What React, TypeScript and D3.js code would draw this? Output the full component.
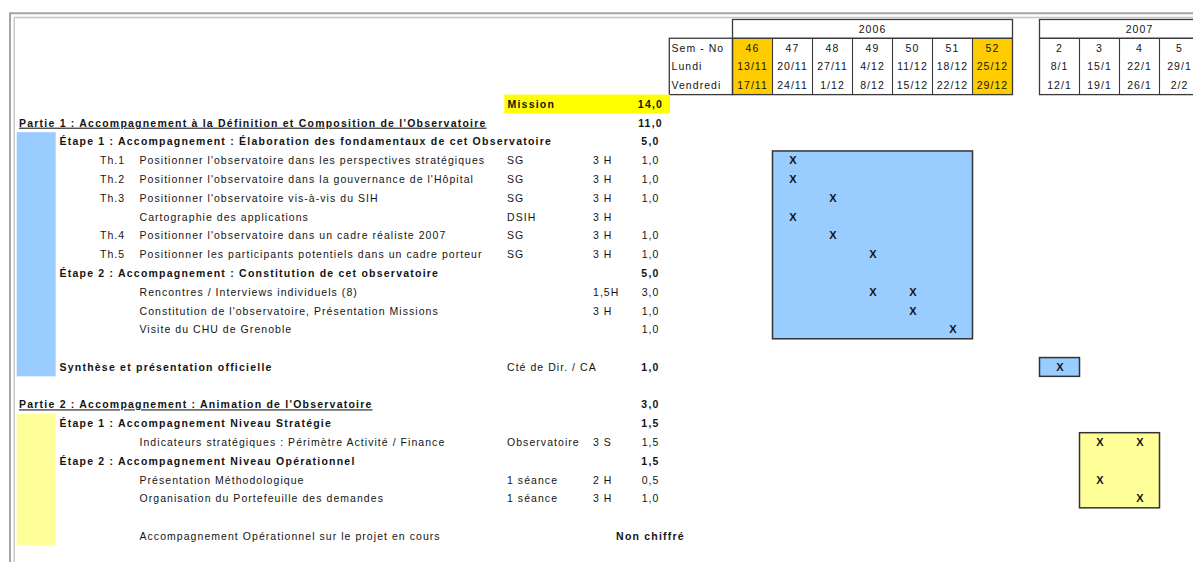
import React, { useEffect } from "react";
import * as d3 from "d3";

// ---------- DATA ----------
const weeks2006 = ["46", "47", "48", "49", "50", "51", "52"];
const lundi2006 = ["13/11", "20/11", "27/11", "4/12", "11/12", "18/12", "25/12"];
const vendredi2006 = ["17/11", "24/11", "1/12", "8/12", "15/12", "22/12", "29/12"];
const weeks2007 = ["2", "3", "4", "5"];
const lundi2007 = ["8/1", "15/1", "22/1", "29/1"];
const vendredi2007 = ["12/1", "19/1", "26/1", "2/2"];
const highlightedWeeks = ["2006-46", "2006-52"];
const headerLabels = ["Sem - No", "Lundi", "Vendredi"];

// row kinds: mission | partie | etape | task | empty
const rowKinds = [
  "mission", "partie", "etape", "task", "task", "task", "task", "task", "task",
  "etape", "task", "task", "task", "empty", "etape", "empty",
  "partie", "etape", "task", "etape", "task", "task", "empty", "task",
];
const rowCodes = [
  "", "", "", "Th.1", "Th.2", "Th.3", "", "Th.4", "Th.5",
  "", "", "", "", "", "", "",
  "", "", "", "", "", "", "", "",
];
const rowLabels = [
  "Mission",
  "Partie 1 : Accompagnement à la Définition et Composition de l'Observatoire",
  "Étape 1 : Accompagnement : Élaboration des fondamentaux de cet Observatoire",
  "Positionner l'observatoire dans les perspectives stratégiques",
  "Positionner l'observatoire dans la gouvernance de l'Hôpital",
  "Positionner l'observatoire vis-à-vis du SIH",
  "Cartographie des applications",
  "Positionner l'observatoire dans un cadre réaliste 2007",
  "Positionner les participants potentiels dans un cadre porteur",
  "Étape 2 : Accompagnement : Constitution de cet observatoire",
  "Rencontres / Interviews individuels (8)",
  "Constitution de l'observatoire, Présentation Missions",
  "Visite du CHU de Grenoble",
  "",
  "Synthèse et présentation officielle",
  "",
  "Partie 2 : Accompagnement : Animation de l'Observatoire",
  "Étape 1 : Accompagnement Niveau Stratégie",
  "Indicateurs stratégiques : Périmètre Activité / Finance",
  "Étape 2 : Accompagnement Niveau Opérationnel",
  "Présentation Méthodologique",
  "Organisation du Portefeuille des demandes",
  "",
  "Accompagnement Opérationnel sur le projet en cours",
];
const rowOwners = [
  "", "", "", "SG", "SG", "SG", "DSIH", "SG", "SG",
  "", "", "", "", "", "Cté de Dir. / CA", "",
  "", "", "Observatoire", "", "1 séance", "1 séance", "", "",
];
const rowDurations = [
  "", "", "", "3 H", "3 H", "3 H", "3 H", "3 H", "3 H",
  "", "1,5H", "3 H", "", "", "", "",
  "", "", "3 S", "", "2 H", "3 H", "", "",
];
const rowDays = [
  "14,0", "11,0", "5,0", "1,0", "1,0", "1,0", "", "1,0", "1,0",
  "5,0", "3,0", "1,0", "1,0", "", "1,0", "",
  "3,0", "1,5", "1,5", "1,5", "0,5", "1,0", "", "Non chiffré",
];
const rowBoldDays = [0, 1, 2, 9, 14, 16, 17, 19, 23];
const rowMarks: string[][] = [
  [], [], [], ["2006-47"], ["2006-47"], ["2006-48"], ["2006-47"], ["2006-48"], ["2006-49"],
  [], ["2006-49", "2006-50"], ["2006-50"], ["2006-51"], [], ["2007-2"], [],
  [], [], ["2007-3", "2007-4"], [], ["2007-3"], ["2007-4"], [], [],
];

// phase blocks
const blockRows = [[3, 12], [14, 14], [18, 21]];
const blockWeeks = [["2006-47", "2006-51"], ["2007-2", "2007-2"], ["2007-3", "2007-4"]];
const blockPhase = [1, 1, 2];
// side bars
const sideBarRows = [[2, 14], [17, 23]];
const sideBarPhase = [1, 2];

// ---------- STYLE ----------
const FONT = "'Liberation Sans', Arial, sans-serif";
const INK = "#141414";
const phaseFill: Record<number, string> = { 1: "#99ccff", 2: "#ffff99" };
const GRID = "#3a3a3a";

const W = 1193;
const H = 562;

function T(props: any) {
  const { bold, size = 10.5, spacing, children, ...rest } = props;
  return (
    <text
      fontFamily={FONT}
      fontSize={size}
      fontWeight={bold ? "bold" : "normal"}
      letterSpacing={spacing !== undefined ? spacing : bold ? 1.22 : 1.05}
      fill={INK}
      {...rest}
    >
      {children}
    </text>
  );
}

export default function App() {
  useEffect(() => {
    document.body.style.margin = "0";
    document.body.style.overflow = "hidden";
  }, []);

  const y = d3.scaleLinear().domain([0, 23]).range([104, 536]);
  const step = y(1) - y(0);
  const top = (i: number) => y(i) - step / 2;
  const bot = (i: number) => y(i) + step / 2;

  const x2006 = d3.scaleBand().domain(weeks2006).range([732.5, 1012.5]).padding(0);
  const x2007 = d3.scaleBand().domain(weeks2007).range([1039.5, 1199.5]).padding(0);
  const colX = (key: string) => {
    const [yr, wk] = key.split("-");
    return yr === "2006" ? (x2006(wk) as number) : (x2007(wk) as number);
  };
  const bw = x2006.bandwidth();

  const X_PARTIE = 19;
  const X_ETAPE = 59.5;
  const X_CODE = 100;
  const X_TASK = 139.5;
  const X_OWNER = 507;
  const X_DUR = 593;
  const X_DAYS = 650.5;
  const BASE = 3.9;

  // the 2007 year band continues past the right edge of the sheet (one more week column)
  const years = [
    { label: "2006", weeks: weeks2006, lundi: lundi2006, vend: vendredi2006, sc: x2006, yr: "2006", extra: 0 },
    { label: "2007", weeks: weeks2007, lundi: lundi2007, vend: vendredi2007, sc: x2007, yr: "2007", extra: 1 },
  ];

  return (
    <svg
      width={W}
      height={H}
      viewBox={`0 0 ${W} ${H}`}
      style={{ display: "block", position: "absolute", left: 0, top: 0, background: "#fff" }}
    >
      <rect x={0} y={0} width={W} height={H} fill="#fff" />
      {/* window frame */}
      <line x1={9} x2={W} y1={13.3} y2={13.3} stroke="#a4a4a4" strokeWidth={2} />
      <line x1={10} x2={10} y1={13.3} y2={H} stroke="#a4a4a4" strokeWidth={2} />
      <line x1={14.2} x2={W} y1={17.5} y2={17.5} stroke="#c4c4c4" strokeWidth={1.4} />
      <line x1={14.2} x2={14.2} y1={17.5} y2={H} stroke="#c4c4c4" strokeWidth={1.4} />

      {/* header: week calendar */}
      {years.map((yy) => {
        const [x0, x1r] = yy.sc.range();
        const x1 = x1r + yy.extra * bw;
        return (
          <g key={yy.label}>
            {yy.weeks.map((w) =>
              highlightedWeeks.includes(`${yy.yr}-${w}`) ? (
                <rect key={w} x={yy.sc(w)} y={top(-3)} width={bw} height={bot(-1) - top(-3)} fill="#ffcc00" />
              ) : null
            )}
            <rect x={x0} y={top(-4)} width={x1 - x0} height={bot(-1) - top(-4)} fill="none" stroke={GRID} strokeWidth={1.3} />
            <line x1={x0} x2={x1} y1={bot(-4)} y2={bot(-4)} stroke={GRID} strokeWidth={1.3} />
            {yy.weeks.slice(1).map((w) => (
              <line key={w} x1={yy.sc(w)} x2={yy.sc(w)} y1={bot(-4)} y2={bot(-1)} stroke={GRID} strokeWidth={1.1} />
            ))}
            {yy.extra ? (
              <line x1={x1r} x2={x1r} y1={bot(-4)} y2={bot(-1)} stroke={GRID} strokeWidth={1.1} />
            ) : null}
            <T x={(x0 + x1) / 2} y={y(-4) + BASE} textAnchor="middle">{yy.label}</T>
            {yy.weeks.map((w, i) => (
              <g key={w}>
                <T x={(yy.sc(w) as number) + bw / 2} y={y(-3) + BASE} textAnchor="middle">{w}</T>
                <T x={(yy.sc(w) as number) + bw / 2} y={y(-2) + BASE} textAnchor="middle">{yy.lundi[i]}</T>
                <T x={(yy.sc(w) as number) + bw / 2} y={y(-1) + BASE} textAnchor="middle">{yy.vend[i]}</T>
              </g>
            ))}
          </g>
        );
      })}
      <rect x={669.3} y={top(-3)} width={732.5 - 669.3} height={bot(-1) - top(-3)} fill="none" stroke={GRID} strokeWidth={1.3} />
      {headerLabels.map((l, i) => (
        <T key={l} x={671.5} y={y(-3 + i) + BASE}>{l}</T>
      ))}

      {/* side phase bars */}
      {sideBarRows.map(([a, b], i) => (
        <rect key={i} x={16.7} y={top(a)} width={55.7 - 16.7} height={bot(b) - top(a)} fill={phaseFill[sideBarPhase[i]]} />
      ))}

      {/* mission highlight */}
      <rect x={504.3} y={top(0)} width={670 - 504.3} height={step} fill="#ffff00" />

      {/* phase blocks */}
      {blockRows.map(([a, b], i) => {
        const xs = colX(blockWeeks[i][0]);
        const xe = colX(blockWeeks[i][1]) + bw;
        return (
          <rect key={i} x={xs} y={top(a)} width={xe - xs} height={bot(b) - top(a)} fill={phaseFill[blockPhase[i]]} stroke="#333" strokeWidth={1.5} />
        );
      })}

      {/* rows */}
      {rowKinds.map((kind, i) => {
        const cy = y(i) + BASE;
        const els: any[] = [];
        if (kind === "mission") {
          els.push(<T key="l" x={X_OWNER + 0.5} y={cy} bold>{rowLabels[i]}</T>);
        } else if (kind === "partie") {
          els.push(<T key="l" x={X_PARTIE} y={cy} bold textDecoration="underline">{rowLabels[i]}</T>);
        } else if (kind === "etape") {
          els.push(<T key="l" x={X_ETAPE} y={cy} bold>{rowLabels[i]}</T>);
        } else if (kind === "task") {
          if (rowCodes[i]) els.push(<T key="c" x={X_CODE} y={cy}>{rowCodes[i]}</T>);
          els.push(<T key="l" x={X_TASK} y={cy}>{rowLabels[i]}</T>);
        }
        if (rowOwners[i]) els.push(<T key="o" x={X_OWNER} y={cy}>{rowOwners[i]}</T>);
        if (rowDurations[i]) els.push(<T key="d" x={X_DUR} y={cy}>{rowDurations[i]}</T>);
        if (rowDays[i])
          els.push(
            <T key="n" x={X_DAYS} y={cy} textAnchor="middle" bold={rowBoldDays.includes(i)}>{rowDays[i]}</T>
          );
        rowMarks[i].forEach((m) =>
          els.push(
            <T key={"m" + m} x={colX(m) + bw / 2 + 0.5} y={cy} textAnchor="middle" size={11} bold spacing={0}>X</T>
          )
        );
        return <g key={i}>{els}</g>;
      })}
    </svg>
  );
}
